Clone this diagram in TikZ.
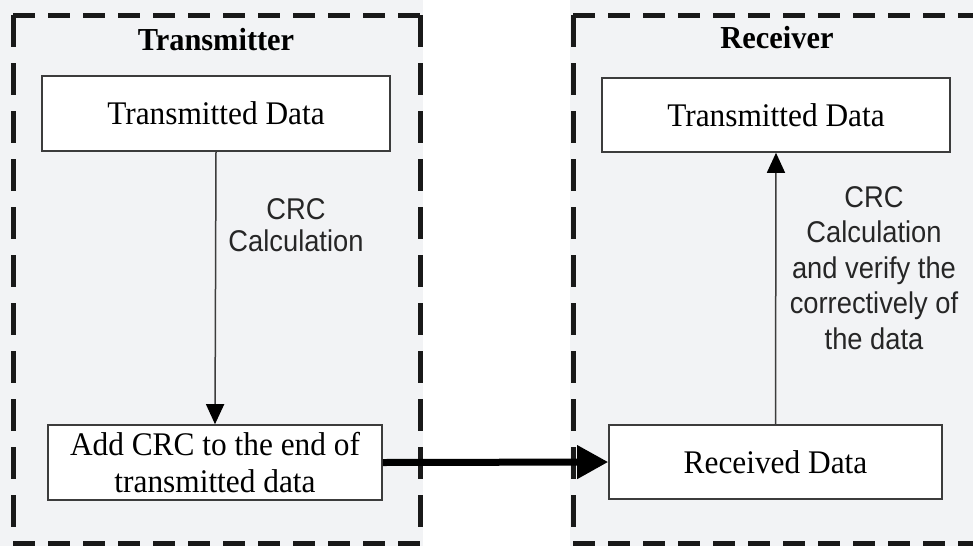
\documentclass[tikz,border=0pt]{standalone}
\usepackage{fontspec}
\newfontfamily\boxfont[FakeStretch=0.95]{Liberation Serif}
\newfontfamily\lblfont[FakeStretch=0.91]{Liberation Sans}
\usetikzlibrary{arrows.meta}
\definecolor{panelgray}{RGB}{242,243,245}
\definecolor{framecol}{RGB}{25,25,25}
\definecolor{boxline}{RGB}{60,60,60}
\tikzset{
  procbox/.style={draw=boxline, line width=1.6pt, fill=white, inner sep=0pt,
    align=center, font=\boxfont\fontsize{33}{37}\selectfont},
  titletext/.style={inner sep=0pt, font=\boxfont\bfseries\fontsize{32}{36}\selectfont},
  lbltext/.style={inner sep=0pt, align=center, text=black!85},
  flow/.style={draw=boxline, line width=1.5pt, -{Triangle[length=20pt,width=18pt,black]}},
  bigflow/.style={draw=black, line width=7pt, -{Triangle[length=31pt,width=32pt]}},
  hdash/.style={draw=framecol, line width=5pt, dash pattern=on 22pt off 13pt},
  vdash/.style={draw=framecol, line width=5pt, dash pattern=on 32pt off 16pt},
}
\begin{document}
\begin{tikzpicture}[x=1pt,y=-1pt]
\useasboundingbox (0,0) rectangle (973,546);
\clip (0,0) rectangle (973,546);
% background
\fill[panelgray] (0,0) rectangle (973,546);
\fill[white] (423,0) rectangle (570,546);
% frames
\draw[hdash] (13,15) -- (420,15);
\draw[hdash] (13,543) -- (420,543);
\draw[vdash] (13,15) -- (13,543);
\draw[vdash] (420,15) -- (420,543);
\draw[hdash] (573,15) -- (985,15);
\draw[hdash] (573,543) -- (985,543);
\draw[vdash] (573,15) -- (573,543);
% titles
\node[titletext, anchor=base] (ttx) at (216,50) {Transmitter};
\node[titletext, anchor=base] (trx) at (777,48) {Receiver};
% boxes
\node[procbox, minimum width=348pt, minimum height=75pt] (td1) at (216,113.5) {Transmitted Data};
\node[procbox, minimum width=334pt, minimum height=75pt] (add) at (215,462.5) {Add CRC to the end of\\transmitted data};
\node[procbox, minimum width=348pt, minimum height=74pt] (td2) at (776,115) {Transmitted Data};
\node[procbox, minimum width=333pt, minimum height=74pt] (rcv) at (775.5,462) {Received Data};
% arrows
\draw[flow] (td1.south) -- (add.north);
\draw[flow] (rcv.north) -- (td2.south);
\draw[bigflow] (add.east) -- (rcv.west);
% labels
\node[lbltext, font=\lblfont\fontsize{30}{32}\selectfont] (l1) at (296,225) {CRC\\Calculation};
\node[lbltext, font=\lblfont\fontsize{30}{35.5}\selectfont] (l2) at (874,268) {CRC\\Calculation\\and verify the\\correctively of\\the data};
\end{tikzpicture}
\end{document}
